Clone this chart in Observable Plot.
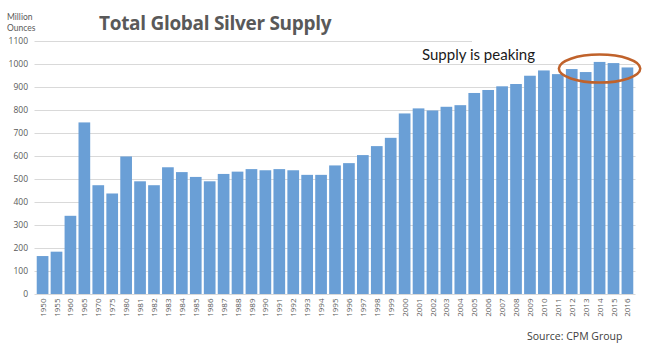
<!DOCTYPE html>
<html><head><meta charset="utf-8">
<script src="https://cdn.jsdelivr.net/npm/d3@7"></script>
<script src="https://cdn.jsdelivr.net/npm/@observablehq/plot@0.6"></script>
<style>
body{margin:0;background:#fff;}
#wrap{position:relative;width:650px;height:350px;overflow:hidden;background:#fff;font-family:Lato,"Open Sans",sans-serif}
#wrap svg{position:absolute;left:0;top:0}
.t{position:absolute;white-space:nowrap;line-height:1}
#title{left:99px;top:14px;font-size:19px;font-weight:bold;color:#595959;font-family:"Open Sans",sans-serif;letter-spacing:-0.3px}
#unit{left:7px;top:12px;font-size:8.5px;color:#595959;line-height:11px}
#note{left:422px;top:47px;font-size:15px;color:#1a1a1a}
#src{left:527px;top:331px;font-size:10.5px;color:#404040;font-family:"Open Sans",sans-serif}
#mask{position:absolute;left:472px;top:37px;width:178px;height:8px;background:#fff}
</style></head><body>
<div id="wrap"></div>
<script>
const years = ["1950","1955","1960","1965","1970","1975","1980","1981","1982","1983","1984","1985","1986","1987","1988","1989","1990","1991","1992","1993","1994","1995","1996","1997","1998","1999","2000","2001","2002","2003","2004","2005","2006","2007","2008","2009","2010","2011","2012","2013","2014","2015","2016"];
const supply = [165,184,340,746,473,437,598,490,473,551,530,509,490,522,532,543,538,543,538,518,518,559,569,604,643,679,785,807,798,814,821,874,887,903,913,949,972,956,978,965,1009,1004,985];
const yTicks = [0,100,200,300,400,500,600,700,800,900,1000,1100];
const titleText = "Total Global Silver Supply";
const unitText = ["Million", "Ounces"];
const noteText = "Supply is peaking";
const sourceText = "Source: CPM Group";
const peakRange = ["2012","2016"];
const peakLevel = 980;

const data = years.map((y, i) => ({year: y, value: supply[i]}));

const plot = Plot.plot({
  width: 650, height: 350,
  marginTop: 41, marginBottom: 56, marginLeft: 34.5, marginRight: 14.5,
  style: {fontFamily: '"Open Sans", sans-serif', fontSize: "8.5px", color: "#595959", background: "transparent"},
  x: {domain: years, paddingInner: 0.16, paddingOuter: 0.16, label: null},
  y: {domain: [0, 1100], label: null},
  marks: [
    Plot.ruleY(yTicks, {stroke: "#d9d9d9", strokeWidth: 1}),
    Plot.barY(data, {x: "year", y: "value", fill: "#6a9fd6"}),
    Plot.axisY(yTicks, {tickSize: 0, tickPadding: 7, fontSize: 8.5, fill: "#595959", label: null, tickFormat: d3.format("d")}),
    Plot.axisX({tickSize: 0, tickPadding: 4, tickRotate: -90, fontSize: 8, fill: "#595959", label: null})
  ]
});

const wrap = document.getElementById("wrap");
wrap.appendChild(plot);

// annotation ellipse positioned from the scales
const xs = plot.scale("x"), ys = plot.scale("y");
const bw = xs.bandwidth;
const x0 = xs.apply(peakRange[0]), x1 = xs.apply(peakRange[1]) + bw;
const cx = (x0 + x1) / 2, cy = ys.apply(peakLevel);
d3.select(plot).append("ellipse")
  .attr("cx", cx).attr("cy", cy)
  .attr("rx", (x1 - x0) / 2 + 7).attr("ry", 14)
  .attr("fill", "none").attr("stroke", "#c0622b").attr("stroke-width", 2.5);

const mask = document.createElement("div"); mask.id = "mask"; wrap.insertBefore(mask, null);
function addText(id, html){ const d = document.createElement("div"); d.className = "t"; d.id = id; d.innerHTML = html; wrap.appendChild(d); }
addText("title", titleText);
addText("unit", unitText.join("<br>"));
addText("note", noteText);
addText("src", sourceText);
</script>
</body></html>
